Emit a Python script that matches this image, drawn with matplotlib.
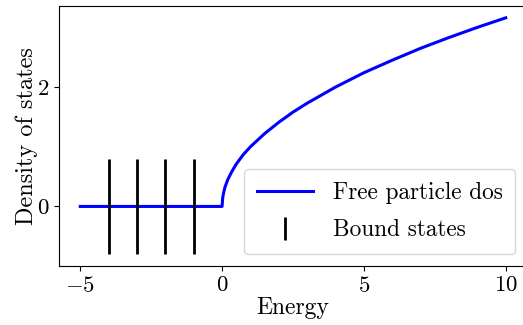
import matplotlib
matplotlib.use("Agg")
import matplotlib.pyplot as plt

plt.rcParams['font.family'] = 'serif'
plt.rcParams['font.serif'] = ['cmr10']
plt.rcParams['mathtext.fontset'] = 'cm'
plt.rcParams['axes.formatter.use_mathtext'] = True
plt.rcParams['axes.unicode_minus'] = True

# Free particle density of states
energy = [-5.0, -2.5, 0.0, 0.02, 0.05, 0.1, 0.2, 0.35, 0.5, 0.75, 1.0, 1.5, 2.0,
          2.5, 3.0, 4.0, 5.0, 6.0, 7.0, 8.0, 9.0, 10.0]
dos = [0.0, 0.0, 0.0, 0.14, 0.22, 0.32, 0.45, 0.59, 0.71, 0.87, 1.0, 1.22, 1.41,
       1.58, 1.73, 2.0, 2.24, 2.45, 2.65, 2.83, 3.0, 3.16]

# Bound states
bound_energy = [-4, -3, -2, -1]
bound_center = [0, 0, 0, 0]
bound_halfheight = 0.8

x_ticks = [-5, 0, 5, 10]
y_ticks = [0, 2]

fig = plt.figure(figsize=(5.23, 3.25), dpi=100)
ax = fig.add_axes([59/523, 1 - 266/325, 468/523, 260/325])

ax.plot(energy, dos, color='blue', lw=2.2, label='Free particle dos')
ax.errorbar(bound_energy, bound_center, yerr=bound_halfheight, fmt='none',
            ecolor='black', elinewidth=2, label='Bound states')

ax.set_xticks(x_ticks)
ax.set_yticks(y_ticks)
ax.tick_params(labelsize=16.5)
ax.set_xlabel('Energy', fontsize=17, labelpad=1)
ax.set_ylabel('Density of states', fontsize=17.5, labelpad=-1)
ax.legend(loc='lower right', fontsize=16.8, handlelength=2.4,
          labelspacing=0.65, borderpad=0.55, handletextpad=0.85)

fig.savefig('out.png', dpi=100)
